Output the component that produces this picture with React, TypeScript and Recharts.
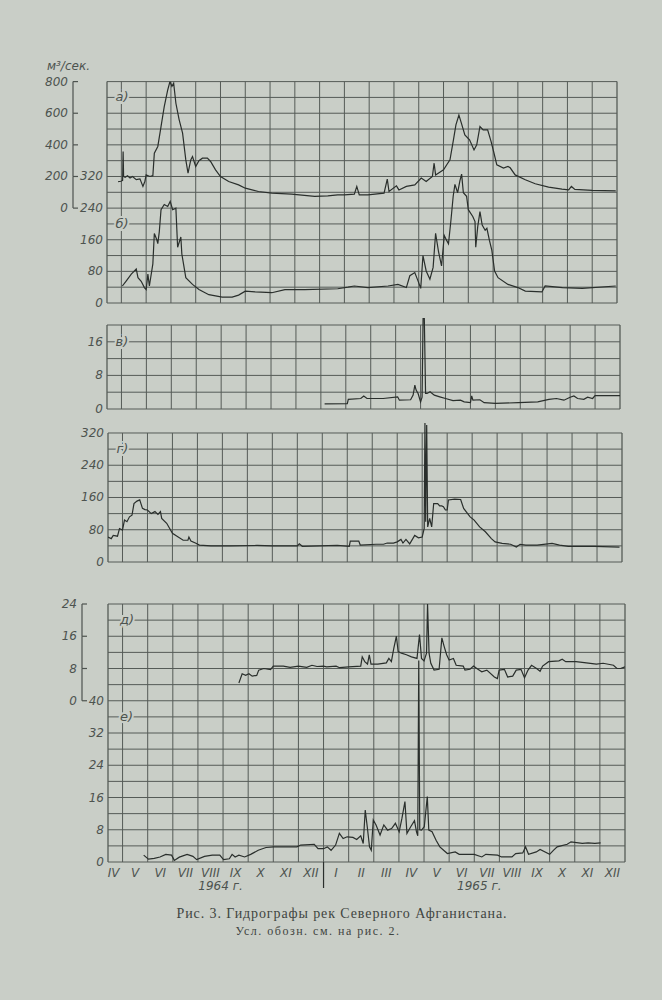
import React from 'react';
import { ComposedChart, Line, XAxis, YAxis, ReferenceLine, ReferenceDot } from 'recharts';

const PAPER = '#c9cec7';
const INK = '#2a2f2c';
const GRID = '#555b57';
const TXT = '#4d534f';
const FONT = '"DejaVu Sans", sans-serif';

// ---- x axis (months, 0 = start of April 1964) ----
const X_DOMAIN: [number, number] = [0.42, 21];
const MONTH_BOUNDS = [1, 2, 3, 4, 5, 6, 7, 8, 9, 10, 11, 12, 13, 14, 15, 16, 17, 18, 19, 20];
const MONTH_LABELS = ['IV', 'V', 'VI', 'VII', 'VIII', 'IX', 'X', 'XI', 'XII', 'I', 'II', 'III', 'IV', 'V', 'VI', 'VII', 'VIII', 'IX', 'X', 'XI', 'XII'];
const MONTH_POS = [0.64, 1.5, 2.5, 3.5, 4.5, 5.5, 6.5, 7.5, 8.5, 9.5, 10.5, 11.5, 12.5, 13.5, 14.5, 15.5, 16.5, 17.5, 18.5, 19.5, 20.5];
const YEAR_LABELS = ['1964 г.', '1965 г.'];
const YEAR_POS = [4.9, 15.2];
const YEAR_DIVIDER = 9;

// ---- y ticks / grid ----
const A_TICKS = [0, 200, 400, 600, 800];
const B_TICKS = [0, 80, 160, 240, 320];
const B_GRID = [0, 40, 80, 120, 160, 200, 240, 280, 320, 360, 400, 440, 480, 520, 560];
const V_TICKS = [0, 8, 16];
const V_GRID = [0, 4, 8, 12, 16, 20];
const G_TICKS = [0, 80, 160, 240, 320];
const G_GRID = [0, 40, 80, 120, 160, 200, 240, 280, 320];
const D_TICKS = [0, 8, 16, 24];
const E_TICKS = [0, 8, 16, 24, 32, 40];
const E_GRID = [0, 4, 8, 12, 16, 20, 24, 28, 32, 36, 40, 44, 48, 52, 56, 60, 64];

// ---- series (month position, discharge) ----
const A_M = [0.87, 0.98, 1.05, 1.07, 1.09, 1.15, 1.25, 1.35, 1.45, 1.6, 1.75, 1.87, 1.95, 2.0, 2.15, 2.27, 2.33, 2.47, 2.6, 2.73, 2.87, 2.96, 3.04, 3.11, 3.2, 3.33, 3.47, 3.6, 3.69, 3.8, 3.87, 4.0, 4.13, 4.27, 4.47, 4.6, 4.8, 5.0, 5.33, 5.73, 6.0, 6.53, 7.07, 7.87, 8.8, 9.33, 9.73, 10.0, 10.4, 10.5, 10.6, 10.95, 11.6, 11.73, 11.8, 12.1, 12.2, 12.5, 12.84, 13.1, 13.3, 13.55, 13.62, 13.68, 14.0, 14.13, 14.26, 14.4, 14.5, 14.62, 14.72, 14.86, 15.05, 15.23, 15.34, 15.47, 15.6, 15.78, 15.92, 16.02, 16.15, 16.42, 16.6, 16.69, 16.89, 17.3, 17.7, 18.24, 18.78, 19.05, 19.16, 19.3, 20.0, 20.95];
const A_V = [168, 170, 175, 358, 200, 195, 205, 190, 200, 180, 185, 137, 170, 210, 200, 205, 347, 390, 515, 642, 747, 800, 770, 790, 663, 560, 474, 305, 221, 305, 326, 263, 300, 316, 316, 295, 242, 200, 168, 147, 126, 105, 95, 88, 74, 78, 84, 84, 88, 137, 84, 84, 95, 183, 105, 141, 115, 137, 147, 190, 168, 200, 284, 210, 242, 274, 305, 432, 526, 589, 537, 463, 432, 368, 400, 516, 495, 495, 421, 358, 274, 253, 263, 255, 210, 179, 154, 133, 120, 115, 137, 118, 112, 109];

const B_M = [1.04, 1.2, 1.4, 1.6, 1.67, 1.8, 1.93, 2.0, 2.07, 2.13, 2.27, 2.33, 2.43, 2.47, 2.53, 2.6, 2.73, 2.87, 2.97, 3.07, 3.2, 3.27, 3.4, 3.44, 3.6, 3.87, 4.13, 4.53, 5.07, 5.47, 5.73, 6.0, 6.4, 7.07, 7.6, 8.4, 9.73, 10.14, 10.4, 10.95, 11.76, 12.16, 12.5, 12.64, 12.84, 12.97, 13.08, 13.17, 13.3, 13.45, 13.58, 13.68, 13.8, 13.92, 14.03, 14.12, 14.2, 14.3, 14.39, 14.46, 14.57, 14.66, 14.73, 14.8, 14.93, 15.0, 15.18, 15.27, 15.3, 15.38, 15.47, 15.56, 15.68, 15.75, 15.85, 15.95, 16.06, 16.2, 16.6, 17.0, 17.3, 17.97, 18.1, 18.8, 19.6, 20.95];
const B_V = [43, 56, 73, 86, 64, 55, 39, 34, 73, 43, 99, 176, 160, 150, 180, 236, 249, 244, 257, 236, 240, 141, 167, 124, 64, 47, 34, 21, 15, 15, 20, 30, 28, 26, 34, 34, 36, 40, 43, 39, 43, 47, 39, 69, 77, 56, 37, 120, 81, 60, 90, 176, 129, 94, 171, 159, 150, 210, 270, 300, 279, 309, 326, 279, 270, 236, 219, 206, 141, 193, 231, 197, 184, 189, 159, 133, 81, 64, 47, 39, 30, 28, 43, 39, 37, 43];

const V_M = [9.15, 10.06, 10.1, 10.6, 10.72, 10.85, 11.5, 12.08, 12.15, 12.6, 12.7, 12.77, 12.82, 12.9, 13.0, 13.06, 13.1, 13.15, 13.2, 13.26, 13.38, 13.55, 13.77, 14.0, 14.3, 14.6, 14.75, 15.0, 15.05, 15.1, 15.38, 15.55, 16.0, 16.92, 17.7, 18.15, 18.45, 18.75, 19.0, 19.15, 19.3, 19.55, 19.7, 19.9, 20.0, 21.0];
const V_V = [1.2, 1.3, 2.3, 2.5, 3.1, 2.5, 2.5, 2.9, 2.1, 2.2, 3.3, 5.7, 4.5, 3.7, 1.7, 2.8, 21.5, 21.5, 3.7, 3.7, 4.1, 3.3, 2.9, 2.5, 2.0, 2.1, 1.7, 1.5, 3.1, 2.1, 2.2, 1.5, 1.35, 1.5, 1.7, 2.3, 2.5, 2.1, 2.8, 3.1, 2.5, 2.3, 2.8, 2.5, 3.2, 3.2];

const G_M = [0.42, 0.55, 0.63, 0.8, 0.88, 1.0, 1.08, 1.18, 1.28, 1.38, 1.46, 1.58, 1.69, 1.8, 1.9, 2.0, 2.15, 2.3, 2.42, 2.52, 2.57, 2.77, 3.0, 3.23, 3.43, 3.62, 3.66, 3.74, 3.92, 4.08, 4.54, 5.3, 6.38, 7.0, 8.0, 8.08, 8.2, 9.6, 10.08, 10.12, 10.46, 10.52, 11.15, 11.45, 11.6, 11.85, 12.0, 12.15, 12.23, 12.35, 12.5, 12.7, 12.85, 13.0, 13.08, 13.11, 13.14, 13.18, 13.22, 13.3, 13.38, 13.46, 13.62, 13.7, 13.78, 13.85, 13.93, 14.0, 14.05, 14.3, 14.54, 14.66, 14.82, 14.92, 15.08, 15.3, 15.53, 15.77, 15.92, 16.2, 16.54, 16.77, 16.92, 17.15, 17.6, 18.2, 18.5, 18.85, 19.9, 20.9];
const G_V = [62, 58, 66, 64, 83, 79, 104, 100, 112, 116, 145, 151, 154, 133, 130, 129, 120, 125, 118, 125, 108, 96, 71, 62, 54, 54, 62, 52, 47, 42, 40, 40, 41, 40, 40, 45, 39, 41, 39, 52, 52, 42, 44, 44, 47, 47, 50, 56, 47, 56, 45, 66, 60, 62, 83, 345, 100, 340, 87, 108, 87, 145, 145, 139, 139, 137, 129, 129, 154, 156, 155, 133, 120, 112, 104, 87, 75, 58, 50, 46, 44, 37, 44, 42, 42, 46, 42, 39, 39, 37];

const D_M = [5.63, 5.76, 5.9, 6.03, 6.16, 6.34, 6.42, 6.62, 6.89, 7.0, 7.4, 7.67, 8.0, 8.33, 8.54, 8.74, 9.0, 9.12, 9.5, 9.64, 10.0, 10.48, 10.54, 10.64, 10.75, 10.82, 10.89, 11.16, 11.5, 11.6, 11.7, 11.8, 11.9, 11.97, 12.1, 12.3, 12.5, 12.72, 12.82, 12.9, 13.0, 13.1, 13.14, 13.2, 13.27, 13.4, 13.6, 13.71, 13.8, 13.9, 14.0, 14.17, 14.28, 14.56, 14.63, 14.83, 14.97, 15.1, 15.3, 15.5, 15.8, 15.92, 15.99, 16.2, 16.33, 16.53, 16.67, 16.86, 17.0, 17.14, 17.28, 17.48, 17.62, 17.72, 17.96, 18.37, 18.5, 18.64, 19.05, 19.46, 19.86, 20.13, 20.54, 20.68, 20.82, 21.0];
const D_V = [4.4, 6.7, 6.3, 6.7, 6.1, 6.3, 7.6, 8.0, 7.7, 8.6, 8.6, 8.3, 8.6, 8.3, 8.8, 8.5, 8.6, 8.4, 8.6, 8.2, 8.4, 8.6, 10.9, 9.7, 9.1, 11.4, 9.1, 9.1, 9.4, 10.5, 9.7, 13.1, 16.0, 12.2, 11.8, 11.4, 10.9, 10.5, 16.4, 10.5, 9.9, 11.8, 24, 11.8, 9.3, 7.6, 7.8, 15.6, 13.5, 11.4, 10.1, 10.5, 8.8, 8.6, 7.6, 7.8, 8.6, 8.0, 7.2, 7.6, 5.9, 5.5, 7.6, 7.8, 5.9, 6.1, 7.6, 7.8, 5.7, 7.6, 8.8, 8.0, 7.3, 8.6, 9.7, 9.9, 10.3, 9.7, 9.7, 9.4, 9.1, 9.3, 8.8, 8.0, 8.0, 8.4];

const E_M = [1.84, 2.03, 2.26, 2.49, 2.72, 2.95, 3.06, 3.26, 3.57, 3.8, 3.95, 4.26, 4.57, 4.87, 5.02, 5.25, 5.36, 5.48, 5.63, 5.86, 6.1, 6.4, 6.71, 7.02, 7.94, 8.09, 8.63, 8.78, 9.0, 9.15, 9.3, 9.48, 9.63, 9.78, 9.94, 10.17, 10.32, 10.48, 10.58, 10.66, 10.74, 10.83, 10.9, 10.98, 11.09, 11.25, 11.4, 11.55, 11.71, 11.86, 12.01, 12.12, 12.24, 12.32, 12.47, 12.62, 12.7, 12.75, 12.79, 12.83, 12.9, 13.01, 13.13, 13.19, 13.32, 13.48, 13.63, 13.78, 13.93, 14.24, 14.4, 15.0, 15.3, 15.46, 15.93, 16.08, 16.5, 16.65, 16.93, 17.04, 17.16, 17.47, 17.62, 18.0, 18.15, 18.3, 18.7, 18.85, 19.3, 19.53, 19.8, 20.03];
const E_V = [1.7, 0.7, 0.9, 1.25, 1.9, 1.7, 0.4, 1.2, 1.9, 1.4, 0.6, 1.4, 1.7, 1.7, 0.6, 0.8, 1.9, 1.25, 1.7, 1.25, 1.9, 2.9, 3.6, 3.75, 3.75, 4.2, 4.4, 3.3, 3.3, 3.75, 2.9, 4.2, 7.1, 5.8, 6.25, 6.1, 5.6, 6.5, 4.6, 12.9, 8.75, 3.75, 2.9, 10.4, 9.2, 6.7, 9.2, 7.9, 8.3, 9.6, 7.5, 10.8, 15.0, 7.1, 8.75, 10.25, 7.5, 6.5, 50, 8, 7.9, 8.75, 16.25, 7.9, 7.5, 5.4, 3.75, 2.9, 2.1, 2.5, 1.9, 1.9, 1.25, 1.9, 1.7, 1.25, 1.25, 2.1, 2.25, 3.75, 1.9, 2.5, 3.1, 1.9, 2.9, 3.75, 4.4, 5.0, 4.6, 4.75, 4.6, 4.75];

const zip = (ms: number[], vs: number[]) => ms.map((m, i) => ({ m, v: vs[i] }));
const A_DATA = zip(A_M, A_V);
const B_DATA = zip(B_M, B_V);
const V_DATA = zip(V_M, V_V);
const G_DATA = zip(G_M, G_V);
const D_DATA = zip(D_M, D_V);
const E_DATA = zip(E_M, E_V);

const BOTTOM_TICKS = [...MONTH_POS, YEAR_DIVIDER, ...YEAR_POS];

const txtStyle = { fontFamily: FONT, fontStyle: 'italic' as const, fontSize: 12, fill: TXT };

const PlainTick = (p: any) => (
  <text x={p.x - 4} y={p.y + 4} textAnchor="end" {...txtStyle}>{p.payload.value}</text>
);

const bracketTick = (stepPx: number, top: number) => (p: any) => {
  const v = p.payload.value;
  return (
    <g>
      <line x1={p.x} x2={p.x + 5} y1={p.y} y2={p.y} stroke={TXT} strokeWidth={1.2} />
      {v < top ? <line x1={p.x} x2={p.x} y1={p.y} y2={p.y - stepPx} stroke={TXT} strokeWidth={1.2} /> : null}
      <text x={p.x - 5} y={p.y + 4} textAnchor="end" {...txtStyle}>{v}</text>
    </g>
  );
};

const MonthTick = (p: any) => {
  const v = p.payload.value;
  const mi = MONTH_POS.indexOf(v);
  if (mi >= 0) {
    return <text x={p.x} y={p.y + 15} textAnchor="middle" {...txtStyle}>{MONTH_LABELS[mi]}</text>;
  }
  const yi = YEAR_POS.indexOf(v);
  if (yi >= 0) {
    return <text x={p.x} y={p.y + 28} textAnchor="middle" {...txtStyle}>{YEAR_LABELS[yi]}</text>;
  }
  if (v === YEAR_DIVIDER) {
    return <line x1={p.x} x2={p.x} y1={p.y} y2={p.y + 26} stroke={INK} strokeWidth={1.2} />;
  }
  return null;
};

const tag = (label: string) => (p: any) => (
  <text x={p.cx} y={p.cy + 4} {...txtStyle} fontSize={13} stroke={PAPER} strokeWidth={4} paintOrder="stroke">{label}</text>
);

const hLines = (yId: string, vals: number[]) =>
  vals.map((v) => (
    <ReferenceLine key={'h' + yId + v} yAxisId={yId} y={v} stroke={GRID} strokeWidth={1} ifOverflow="visible" />
  ));

const vLines = (yId: string, y0: number, y1: number) => [
  ...MONTH_BOUNDS.map((m) => (
    <ReferenceLine key={'v' + yId + m} yAxisId={yId} segment={[{ x: m, y: y0 }, { x: m, y: y1 }]} stroke={GRID} strokeWidth={1} ifOverflow="visible" />
  )),
  <ReferenceLine key={'vl' + yId} yAxisId={yId} segment={[{ x: X_DOMAIN[0], y: y0 }, { x: X_DOMAIN[0], y: y1 }]} stroke={GRID} strokeWidth={1.3} ifOverflow="visible" />,
  <ReferenceLine key={'vr' + yId} yAxisId={yId} segment={[{ x: X_DOMAIN[1], y: y0 }, { x: X_DOMAIN[1], y: y1 }]} stroke={GRID} strokeWidth={1.3} ifOverflow="visible" />,
];

const lineProps = { dataKey: 'v', stroke: INK, strokeWidth: 1.2, dot: false, isAnimationActive: false, type: 'linear' as const };

const hiddenX = <XAxis type="number" dataKey="m" domain={X_DOMAIN} allowDataOverflow hide />;

const yCommon = {
  type: 'number' as const,
  allowDataOverflow: true,
  axisLine: false,
  tickLine: false,
  tickSize: 0,
  tickMargin: 0,
  interval: 0 as const,
};

// axis ids: the alphabetically first id is placed next to the plot
const ID_B = 'p1';
const ID_A = 'p2';
const ID_E = 'q1';
const ID_D = 'q2';

export default function App() {
  const topPlotH = 303 - 81.6;
  const botPlotH = 862 - 604;
  return (
    <div style={{ position: 'absolute', left: 0, top: 0, width: 662, height: 1000, background: PAPER, overflow: 'hidden' }}>
      <div style={{ position: 'absolute', left: 47, top: 59, fontFamily: FONT, fontStyle: 'italic', fontSize: 12, color: TXT }}>м³/сек.</div>

      {/* а) / б) */}
      <div style={{ position: 'absolute', left: 0, top: 0 }}>
        <ComposedChart width={662} height={320} margin={{ top: 81.6, right: 45, bottom: 17, left: 10 }}>
          {hiddenX}
          <YAxis yAxisId={ID_B} {...yCommon} domain={[0, 560]} ticks={B_TICKS} width={34} tick={PlainTick} />
          <YAxis yAxisId={ID_A} {...yCommon} domain={[-600, 800]} ticks={A_TICKS} width={63} tick={bracketTick((200 * topPlotH) / 1400, 800)} />
          {hLines(ID_B, B_GRID)}
          {vLines(ID_B, 0, 560)}
          <ReferenceDot yAxisId={ID_B} x={0.76} y={520} r={0} shape={tag('а)')} ifOverflow="visible" />
          <ReferenceDot yAxisId={ID_B} x={0.76} y={200} r={0} shape={tag('б)')} ifOverflow="visible" />
          <Line yAxisId={ID_A} data={A_DATA} {...lineProps} />
          <Line yAxisId={ID_B} data={B_DATA} {...lineProps} />
        </ComposedChart>
      </div>

      {/* в) */}
      <div style={{ position: 'absolute', left: 0, top: 300 }}>
        <ComposedChart width={662} height={120} margin={{ top: 16.6, right: 42, bottom: 11, left: 57 }}>
          {hiddenX}
          <YAxis yAxisId="v" {...yCommon} domain={[0, 22]} ticks={V_TICKS} width={50} tick={PlainTick} />
          {hLines('v', V_GRID)}
          {vLines('v', 0, 20)}
          <ReferenceDot yAxisId="v" x={0.76} y={16} r={0} shape={tag('в)')} ifOverflow="visible" />
          <Line yAxisId="v" data={V_DATA} {...lineProps} />
        </ComposedChart>
      </div>

      {/* г) */}
      <div style={{ position: 'absolute', left: 0, top: 400 }}>
        <ComposedChart width={662} height={175} margin={{ top: 20.9, right: 40, bottom: 13, left: 58 }}>
          {hiddenX}
          <YAxis yAxisId="g" {...yCommon} domain={[0, 350]} ticks={G_TICKS} width={50} tick={PlainTick} />
          {hLines('g', G_GRID)}
          {vLines('g', 0, 320)}
          <ReferenceDot yAxisId="g" x={0.76} y={280} r={0} shape={tag('г)')} ifOverflow="visible" />
          <Line yAxisId="g" data={G_DATA} {...lineProps} />
        </ComposedChart>
      </div>

      {/* д) / е) */}
      <div style={{ position: 'absolute', left: 0, top: 585 }}>
        <ComposedChart width={662} height={320} margin={{ top: 19, right: 37, bottom: 0, left: 20 }}>
          <XAxis
            type="number"
            dataKey="m"
            domain={X_DOMAIN}
            allowDataOverflow
            ticks={BOTTOM_TICKS}
            interval={0}
            axisLine={false}
            tickLine={false}
            tickSize={0}
            tickMargin={0}
            height={43}
            tick={MonthTick}
          />
          <YAxis yAxisId={ID_E} {...yCommon} domain={[0, 64]} ticks={E_TICKS} width={26} tick={PlainTick} />
          <YAxis yAxisId={ID_D} {...yCommon} domain={[-40, 24]} ticks={D_TICKS} width={62} tick={bracketTick((8 * botPlotH) / 64, 24)} />
          {hLines(ID_E, E_GRID)}
          {vLines(ID_E, 0, 64)}
          <ReferenceDot yAxisId={ID_E} x={0.9} y={60} r={0} shape={tag('д)')} ifOverflow="visible" />
          <ReferenceDot yAxisId={ID_E} x={0.9} y={36} r={0} shape={tag('е)')} ifOverflow="visible" />
          <Line yAxisId={ID_D} data={D_DATA} {...lineProps} />
          <Line yAxisId={ID_E} data={E_DATA} {...lineProps} />
        </ComposedChart>
      </div>

      <div style={{ position: 'absolute', left: 0, width: 684, top: 906, textAlign: 'center', fontFamily: '"Liberation Serif", serif', fontSize: 14, letterSpacing: 0.9, color: '#3f4541' }}>
        Рис. 3. Гидрографы рек Северного Афганистана.
      </div>
      <div style={{ position: 'absolute', left: 0, width: 636, top: 924, textAlign: 'center', fontFamily: '"Liberation Serif", serif', fontSize: 12, letterSpacing: 1.5, color: '#3f4541' }}>
        Усл. обозн. см. на рис. 2.
      </div>
    </div>
  );
}
